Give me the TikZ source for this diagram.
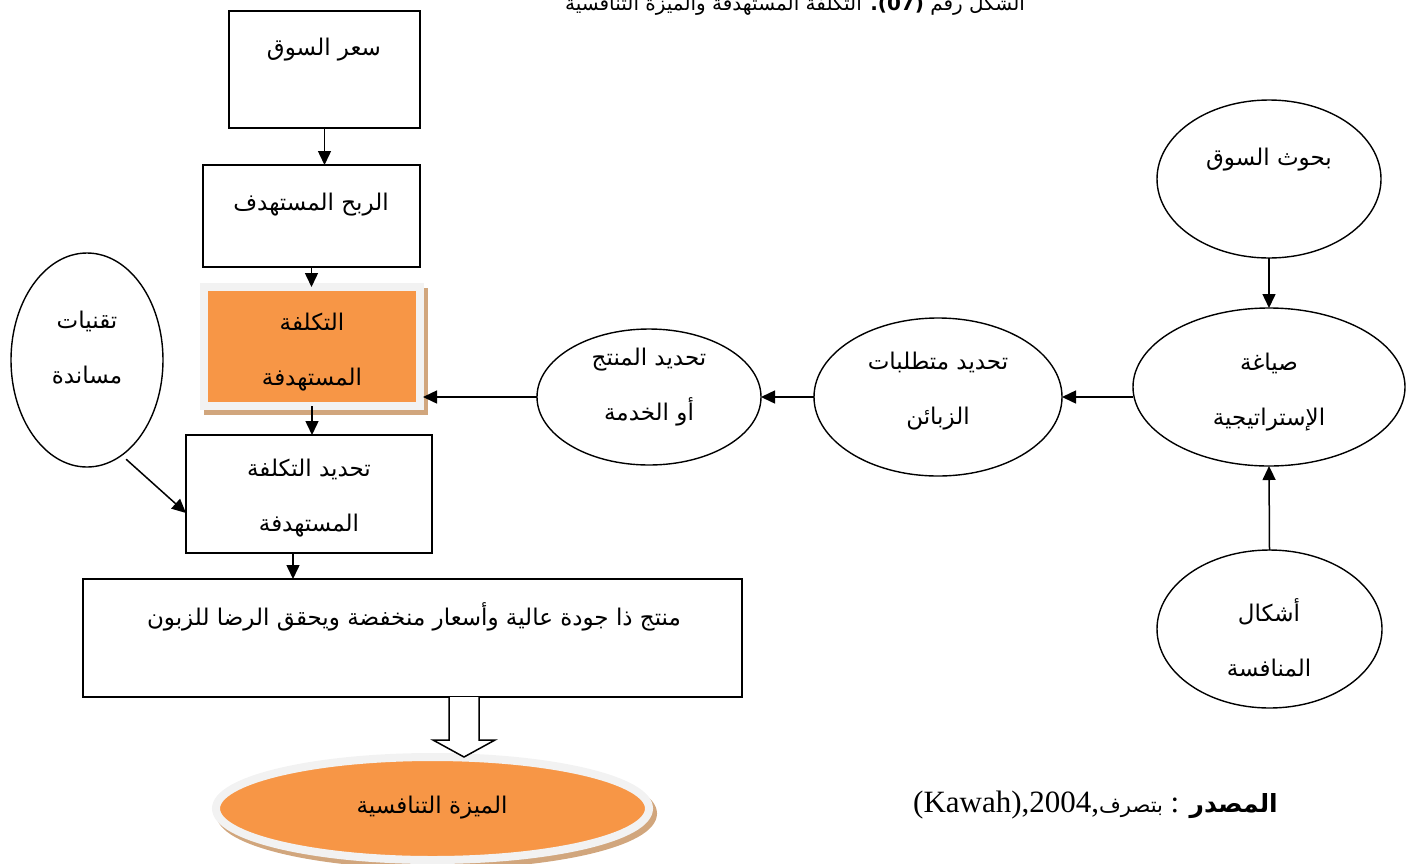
\documentclass[tikz,border=0pt]{standalone}
\usepackage{fontspec}
\setmainfont{Liberation Serif}
\newfontfamily\arabicfont[Script=Arabic]{DejaVu Sans}
\TeXXeTstate=1
\usetikzlibrary{arrows.meta,shapes.geometric,calc}
\definecolor{costorange}{HTML}{F79646}
\definecolor{framegray}{HTML}{F2F2F2}
\definecolor{shadetan}{HTML}{D1A67D}
\newcommand{\ar}[1]{{\arabicfont\beginR #1\endR}}

\begin{document}
\begin{tikzpicture}[x=1pt,y=-1pt,
  box/.style={draw,line width=1.4pt,inner sep=0pt,outer sep=0pt},
  oval/.style={draw,ellipse,line width=1.4pt,inner sep=0pt,outer sep=0pt},
  txt/.style={font=\fontsize{23}{55}\selectfont,align=center,inner sep=0pt},
  arr/.style={-{Triangle[length=14pt,width=13pt]},line width=1.5pt},
  hollow/.style={draw,fill=white,line width=1.5pt,line join=miter},
  shaded/.style={draw=framegray,line width=8pt,fill=costorange,inner sep=0pt,outer sep=0pt,
    preaction={draw=shadetan,fill=shadetan,line width=8pt,transform canvas={shift={(4pt,-5pt)}}}}
]
\path[use as bounding box] (0,0) rectangle (1408,863);
% caption, cut at the top edge
\node[anchor=base,font=\fontsize{20}{24}\selectfont] (title) at (795,10)
  {\ar{الشكل رقم \textbf{\beginL(07)\endL.} التكلفة المستهدفة والميزة التنافسية}};
% left column
\node[box,minimum width=191,minimum height=117] (price) at (324.5,69.5) {};
\node[txt] (tprice) at (324,50) {\ar{سعر السوق}};
\node[box,minimum width=217,minimum height=102] (profit) at (311.5,216) {};
\node[txt] (tprofit) at (311,205) {\ar{الربح المستهدف}};
\node[shaded,minimum width=216,minimum height=119] (cost) at (312,346.5) {};
\node[txt] (tcost) at (312,352.5) {\ar{التكلفة}\\\ar{المستهدفة}};
\node[box,minimum width=246,minimum height=118] (setcost) at (309,494) {};
\node[txt] (tsetcost) at (309,498.5) {\ar{تحديد التكلفة}\\\ar{المستهدفة}};
\node[box,minimum width=659,minimum height=118] (product) at (412.5,638) {};
\node[txt] (tproduct) at (414,617) {\ar{منتج ذا جودة عالية وأسعار منخفضة ويحقق الرضا للزبون}};
\node[shaded,ellipse,minimum width=433,minimum height=103] (adv) at (432.5,808.5) {};
\node[txt] (tadv) at (432,808) {\ar{الميزة التنافسية}};
\node[oval,minimum width=152,minimum height=214] (tech) at (87,360) {};
\node[txt] (ttech) at (87,347.5) {\ar{تقنيات}\\\ar{مساندة}};
% right side
\node[oval,minimum width=224,minimum height=158] (research) at (1269,179) {};
\node[txt] (tresearch) at (1269,160) {\ar{بحوث السوق}};
\node[oval,minimum width=272,minimum height=158] (strat) at (1269,387) {};
\node[txt] (tstrat) at (1269,392) {\ar{صياغة}\\\ar{الإستراتيجية}};
\node[oval,minimum width=225,minimum height=158] (rivals) at (1269.5,629) {};
\node[txt] (trivals) at (1269,638) {\ar{أشكال}\\\ar{المنافسة}};
\node[oval,minimum width=248,minimum height=158] (needs) at (938,397) {};
\node[txt] (tneeds) at (938,391.5) {\ar{تحديد متطلبات}\\\ar{الزبائن}};
\node[oval,minimum width=224,minimum height=136] (offer) at (649,397) {};
\node[txt] (toffer) at (649,387.5) {\ar{تحديد المنتج}\\\ar{أو الخدمة}};
% connectors
\draw[arr] (price.south) -- (price.south |- profit.north);
\draw[arr] (profit.south) -- (profit.south |- cost.north);
\draw[arr] (cost.south) -- (cost.south |- setcost.north);
\coordinate (k1) at ([xshift=-16pt]setcost.south);
\draw[arr] (k1) -- (k1 |- product.north);
\draw[arr,shorten <=6pt] (tech.-70) -- ([yshift=-19pt]setcost.west);
\draw[arr] (research.south) -- (strat.north);
\draw[arr] (rivals.north) -- (strat.south);
\draw[arr] (strat.west |- needs.east) -- (needs.east);
\draw[arr] (needs.west) -- (offer.east);
\draw[arr] (offer.west) -- ([xshift=3pt]offer.west -| cost.east);
\draw[hollow] ($(product.south)+(36.5,0)$) -- ++(0,43) -- ++(-16,0) -- ++(31,17)
  -- ++(31,-17) -- ++(-16,0) -- ++(0,-43);
% source line
\node[anchor=base east,inner sep=0pt] (source) at (1278,812)
  {\fontsize{31}{34}\selectfont(Kawah),2004,{\arabicfont\fontsize{21}{24}\selectfont\beginR بتصرف\endR} : {\arabicfont\bfseries\fontsize{25}{28}\selectfont\beginR المصدر\endR}};
\end{tikzpicture}
\end{document}
